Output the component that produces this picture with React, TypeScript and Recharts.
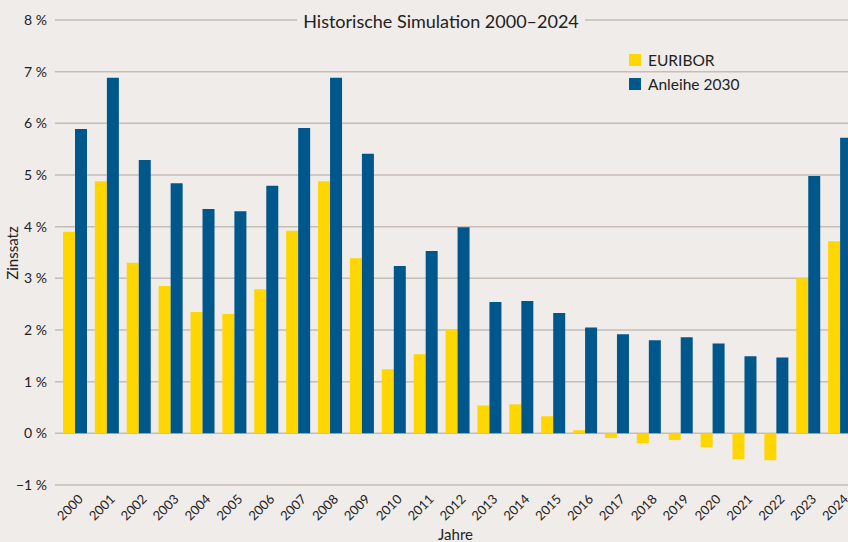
import { BarChart, Bar, XAxis, YAxis, CartesianGrid, Legend } from "recharts";

const years = [
  "2000", "2001", "2002", "2003", "2004", "2005", "2006", "2007", "2008", "2009",
  "2010", "2011", "2012", "2013", "2014", "2015", "2016", "2017", "2018", "2019",
  "2020", "2021", "2022", "2023", "2024",
];

const euribor = [
  3.9, 4.88, 3.3, 2.85, 2.35, 2.31, 2.79, 3.92, 4.88, 3.39,
  1.24, 1.53, 2.0, 0.54, 0.56, 0.33, 0.06, -0.09, -0.19, -0.13,
  -0.27, -0.5, -0.52, 3.0, 3.72,
];

const anleihe = [
  5.89, 6.88, 5.29, 4.84, 4.34, 4.3, 4.79, 5.91, 6.88, 5.41,
  3.24, 3.53, 3.99, 2.54, 2.56, 2.33, 2.05, 1.92, 1.8, 1.86,
  1.74, 1.49, 1.47, 4.98, 5.72,
];

const yTicks = [-1, 0, 1, 2, 3, 4, 5, 6, 7, 8];

const data = years.map((year, i) => ({ year, euribor: euribor[i], anleihe: anleihe[i] }));

const BG = "#f0ece9";
const GRID = "#c8bdb5";
const YELLOW = "#ffd600";
const BLUE = "#00578c";
const TEXT = "#222222";
const FONT = "Lato, 'Liberation Sans', sans-serif";

const fmtPct = (v: number) => (v < 0 ? "\u2212" + Math.abs(v) : String(v)) + " %";

function YearTick({ x, y, payload }: any) {
  return (
    <g transform={`translate(${x + 9},${y + 7})`}>
      <text textAnchor="end" transform="rotate(-45)" fill={TEXT} fontSize={13} fontFamily={FONT}>
        {payload.value}
      </text>
    </g>
  );
}

function LegendBox() {
  const items = [
    { label: "EURIBOR", color: YELLOW },
    { label: "Anleihe 2030", color: BLUE },
  ];
  return (
    <div style={{ fontFamily: FONT, fontSize: 15.5, color: TEXT }}>
      {items.map((it) => (
        <div key={it.label} style={{ display: "flex", alignItems: "center", height: 24 }}>
          <span style={{ width: 12, height: 12, background: it.color, marginRight: 7 }} />
          {it.label}
        </div>
      ))}
    </div>
  );
}

export default function App() {
  return (
    <div
      style={{
        position: "fixed",
        left: 0,
        top: 0,
        width: 848,
        height: 542,
        overflow: "hidden",
        background: BG,
      }}
    >
      <BarChart
        width={870}
        height={542}
        data={data}
        margin={{ top: 20, right: 14, bottom: 0, left: 0 }}
        barGap={0}
        barSize={12}
      >
        <CartesianGrid horizontal vertical={false} stroke={GRID} strokeWidth={1.5} />
        <XAxis
          dataKey="year"
          height={57}
          interval={0}
          axisLine={false}
          tickLine={false}
          padding={{ left: 4, right: 0 }}
          tick={<YearTick />}
          label={{ value: "Jahre", position: "insideBottom", offset: 2, fill: TEXT, fontSize: 15, fontFamily: FONT }}
        />
        <YAxis
          width={55}
          domain={[-1, 8]}
          ticks={yTicks}
          interval={0}
          axisLine={false}
          tickLine={false}
          tickFormatter={fmtPct}
          tick={{ fill: TEXT, fontSize: 14, fontFamily: FONT }}
          label={{
            content: () => (
              <text x={18} y={253} transform="rotate(-90 18 253)" textAnchor="middle" fill={TEXT} fontSize={15} fontFamily={FONT}>
                Zinssatz
              </text>
            ),
          }}
        />
        <Legend
          layout="horizontal"
          verticalAlign="middle"
          align="center"
          content={<LegendBox />}
          wrapperStyle={{ position: "absolute", top: 48, left: 629, width: 160 }}
        />
        <Bar dataKey="euribor" name="EURIBOR" fill={YELLOW} isAnimationActive={false} />
        <Bar dataKey="anleihe" name="Anleihe 2030" fill={BLUE} isAnimationActive={false} />
      </BarChart>
      <div
        style={{
          position: "absolute",
          top: 8,
          left: 297,
          width: 288,
          textAlign: "center",
          background: BG,
          fontFamily: FONT,
          fontSize: 18,
          lineHeight: "26px",
          color: TEXT,
        }}
      >
        Historische Simulation 2000–2024
      </div>
    </div>
  );
}
